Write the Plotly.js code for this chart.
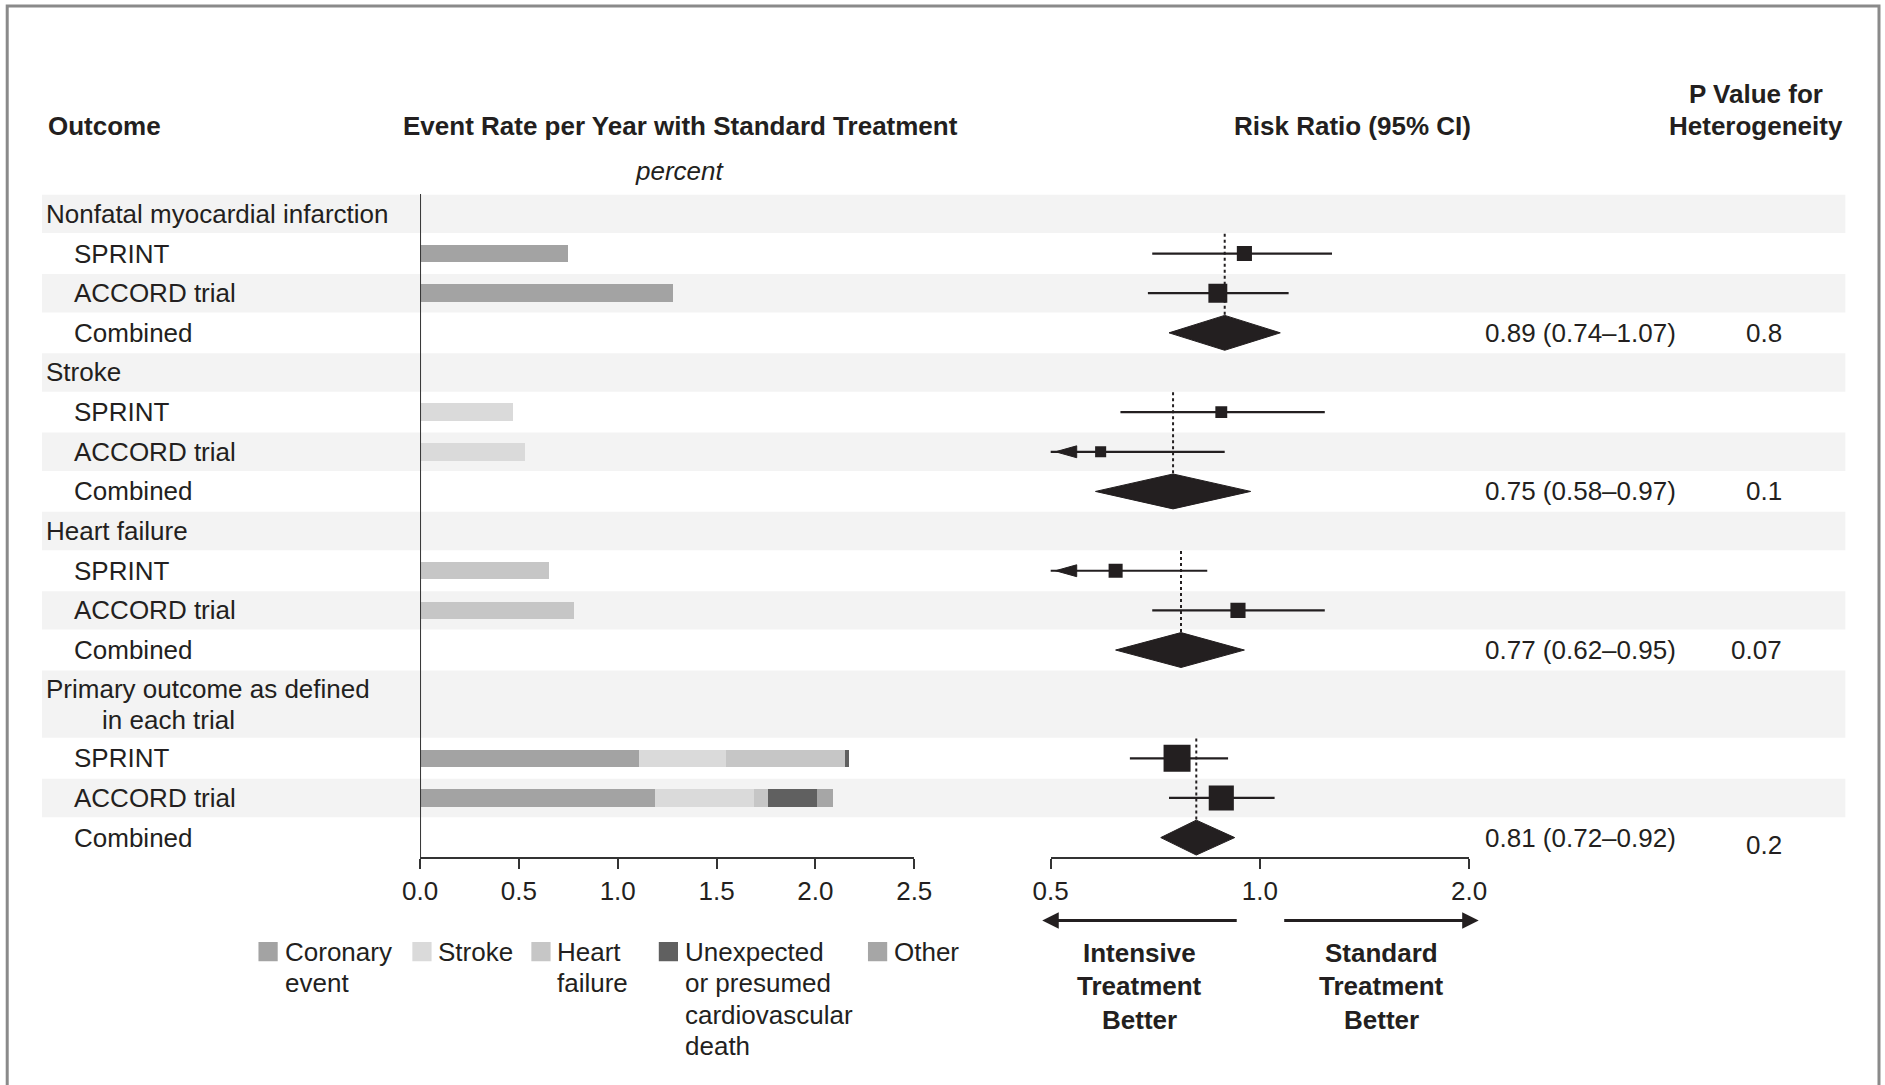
<!DOCTYPE html>
<html><head><meta charset="utf-8">
<script src="https://cdn.plot.ly/plotly-3.0.1.min.js"></script>
<style>html,body{margin:0;padding:0;background:#fff}#chart{width:1885px;height:1085px}</style>
</head><body><div id="chart"></div>
<script>
// ---------------- DATA ----------------
const rowLines = [
  ["Nonfatal myocardial infarction"], ["SPRINT"], ["ACCORD trial"], ["Combined"],
  ["Stroke"], ["SPRINT"], ["ACCORD trial"], ["Combined"],
  ["Heart failure"], ["SPRINT"], ["ACCORD trial"], ["Combined"],
  ["Primary outcome as defined", "in each trial"], ["SPRINT"], ["ACCORD trial"], ["Combined"]
];
const rowKind = ["group","trial","trial","combined","group","trial","trial","combined",
                 "group","trial","trial","combined","group","trial","trial","combined"];

// Event rate per year with standard treatment (percent), stacked by component
const coronaryRate     = [null,0.75,1.28,null, null,null,null,null, null,null,null,null, null,1.11,1.19,null];
const strokeRate       = [null,null,null,null, null,0.47,0.53,null, null,null,null,null, null,0.44,0.50,null];
const heartFailureRate = [null,null,null,null, null,null,null,null, null,0.65,0.78,null, null,0.60,0.07,null];
const cvDeathRate      = [null,null,null,null, null,null,null,null, null,null,null,null, null,0.02,0.25,null];
const otherRate        = [null,null,null,null, null,null,null,null, null,null,null,null, null,null,0.08,null];

const componentNames = [["Coronary","event"],["Stroke"],["Heart","failure"],
                        ["Unexpected","or presumed","cardiovascular","death"],["Other"]];

// Risk ratio (95% CI)
const riskRatio = [null,0.95,0.87,0.89, null,0.88,0.59,0.75, null,0.62,0.93,0.77, null,0.76,0.88,0.81];
const ciLower   = [null,0.70,0.69,0.74, null,0.63,0.39,0.58, null,0.45,0.70,0.62, null,0.65,0.74,0.72];
const ciUpper   = [null,1.27,1.10,1.07, null,1.24,0.89,0.97, null,0.84,1.24,0.95, null,0.90,1.05,0.92];
const studyWeight = [null,0.56,0.70,null, null,0.44,0.41,null, null,0.52,0.56,null, null,1.00,0.93,null];
const ratioText = [null,null,null,"0.89 (0.74–1.07)", null,null,null,"0.75 (0.58–0.97)",
                   null,null,null,"0.77 (0.62–0.95)", null,null,null,"0.81 (0.72–0.92)"];
const pHeterogeneity = [null,null,null,"0.8", null,null,null,"0.1", null,null,null,"0.07", null,null,null,"0.2"];

const rateTicks = [0,0.5,1,1.5,2,2.5];
const rateTickText = ["0.0","0.5","1.0","1.5","2.0","2.5"];
const ratioTicks = [0.5,1,2];
const ratioTickText = ["0.5","1.0","2.0"];

// ---------------- STYLE / LAYOUT HELPERS ----------------
const W = 1885, H = 1085, DW = 1568, DH = 903;
const SX = W / DW;
const px = x => x / DW;
const py = y => 1 - y / DH;
const ROW0 = 178, PITCH = 33;
const FONT = "'Liberation Sans', Arial, sans-serif";
const FS = 26;
const INK = "#231f20";
const componentColors = ["#a3a3a3","#dadada","#c6c6c6","#606060","#a6a6a6"];
const bandColor = "#f3f3f3";

// row centres in row units
const rowH = rowLines.map(l => l.length > 1 ? 1.73 : 1);
const rowY = []; let acc = 0;
rowH.forEach(h => { rowY.push(acc + h/2 - 0.5); acc += h; });
const axisY = 714; // D pixel of the bottom axes
const uTop = (0 - ROW0) / PITCH, uBot = (DH - ROW0) / PITCH;
const axisU = (axisY - ROW0) / PITCH;

const traces = [];
const rates = [coronaryRate, strokeRate, heartFailureRate, cvDeathRate, otherRate];
rates.forEach((arr, k) => {
  traces.push({type:"bar", orientation:"h", x:arr, y:rowY, width:0.44,
    marker:{color:componentColors[k], line:{width:0}}, xaxis:"x", yaxis:"y", hoverinfo:"skip"});
});

// forest: CI lines
const ratioMin = ratioTicks[0];
const ciX = [], ciY = [];
const arrows = [];
rowKind.forEach((k, i) => {
  if (k !== "trial") return;
  ciX.push(ciLower[i], ciUpper[i], null); ciY.push(rowY[i], rowY[i], null);
  if (ciLower[i] < ratioMin) arrows.push(i);
});
traces.push({type:"scatter", mode:"lines", x:ciX, y:ciY, xaxis:"x2", yaxis:"y",
  line:{color:INK, width:2.2}, hoverinfo:"skip", cliponaxis:true});
arrows.forEach(i => {
  traces.push({type:"scatter", mode:"lines", fill:"toself", fillcolor:INK,
    x:[ratioMin*1.016, ratioMin*1.09, ratioMin*1.09, ratioMin*1.016],
    y:[rowY[i], rowY[i]-0.15, rowY[i]+0.15, rowY[i]],
    xaxis:"x2", yaxis:"y", line:{color:INK, width:1}, hoverinfo:"skip"});
});
// squares
const sqX = [], sqY = [], sqS = [];
rowKind.forEach((k, i) => { if (k === "trial") { sqX.push(riskRatio[i]); sqY.push(rowY[i]); sqS.push(27*studyWeight[i]); } });
traces.push({type:"scatter", mode:"markers", x:sqX, y:sqY, xaxis:"x2", yaxis:"y",
  marker:{symbol:"square", size:sqS, color:INK, opacity:1, line:{width:0}}, hoverinfo:"skip"});
// diamonds + dotted lines
const DH2 = 0.44;
rowKind.forEach((k, i) => {
  if (k !== "combined") return;
  const r = rowY[i];
  traces.push({type:"scatter", mode:"lines", fill:"toself", fillcolor:INK,
    x:[ciLower[i], riskRatio[i], ciUpper[i], riskRatio[i], ciLower[i]],
    y:[r, r-DH2, r, r+DH2, r], xaxis:"x2", yaxis:"y", line:{color:INK, width:1}, hoverinfo:"skip"});
  const gi = rowKind.lastIndexOf("group", i);
  traces.push({type:"scatter", mode:"lines", x:[riskRatio[i], riskRatio[i]],
    y:[rowY[gi] + rowH[gi]/2, r - DH2], xaxis:"x2", yaxis:"y",
    line:{color:INK, width:2, dash:"dot"}, hoverinfo:"skip"});
});

// ---------------- SHAPES ----------------
const shapes = [];
rowKind.forEach((k, i) => {
  if (k === "group" || rowLines[i][0] === "ACCORD trial") {
    shapes.push({type:"rect", xref:"paper", yref:"y", x0:px(35), x1:px(1535),
      y0:rowY[i]-rowH[i]/2+0.015, y1:rowY[i]+rowH[i]/2-0.015, fillcolor:bandColor, line:{width:0}, layer:"below"});
  }
});
shapes.push({type:"line", xref:"x", yref:"y", x0:0, x1:0, y0:rowY[0]-0.5, y1:axisU, line:{color:"#333", width:2}});
shapes.push({type:"line", xref:"x2", yref:"y", x0:0, x1:0, y0:rowY[0]-0.5, y1:axisU, line:{color:"#333", width:2}});
shapes.push({type:"rect", xref:"paper", yref:"paper", x0:px(6), x1:px(1563), y0:-0.05, y1:py(5),
  line:{color:"#8a8a8a", width:3}, fillcolor:"rgba(0,0,0,0)"});
// legend swatches
const swatchX = [215, 343, 442, 548, 722];
swatchX.forEach((x, k) => shapes.push({type:"rect", xref:"paper", yref:"paper",
  x0:px(x), x1:px(x+16), y0:py(800), y1:py(784), fillcolor:componentColors[k], line:{width:0}}));

// ---------------- ANNOTATIONS ----------------
const ann = [];
const txt = (text, x, y, xanchor, opts={}) => ann.push(Object.assign({text, x, y, xref:"paper", yref:"paper",
  xanchor, yanchor:"middle", showarrow:false, font:{family:FONT, size:FS, color:INK}}, opts));
rowLines.forEach((lines, i) => {
  const indent = rowKind[i] === "group" ? 37 : 60;
  if (lines.length === 1) {
    txt(lines[0], px(indent), rowY[i], "left", {yref:"y"});
  } else {
    txt(lines[0], px(indent), rowY[i]-0.39, "left", {yref:"y"});
    txt(lines[1], px(83), rowY[i]+0.39, "left", {yref:"y"});
  }
  if (ratioText[i]) txt(ratioText[i], px(1234), rowY[i], "left", {yref:"y"});
  if (pHeterogeneity[i]) txt(pHeterogeneity[i], px(1484), rowY[i] + (i === rowY.length-1 ? 0.18 : 0), "right", {yref:"y"});
});
txt("<b>Outcome</b>", px(38), py(105), "left");
txt("<b>Event Rate per Year with Standard Treatment</b>", px(566), py(105), "center");
txt("<i>percent</i>", px(565), py(142), "center");
txt("<b>Risk Ratio (95% CI)</b>", px(1125), py(105), "center");
txt("<b>P Value for</b>", px(1461), py(78), "center");
txt("<b>Heterogeneity</b>", px(1461), py(105), "center");
componentNames.forEach((lines, k) => lines.forEach((l, j) =>
  txt(l, px(swatchX[k] + 20), py(792 + 26.3*j), "left")));
["Intensive","Treatment","Better"].forEach((l, j) => txt("<b>"+l+"</b>", px(948), py(793 + 28*j), "center"));
["Standard","Treatment","Better"].forEach((l, j) => txt("<b>"+l+"</b>", px(1149), py(793 + 28*j), "center"));
const arrowStyle = {text:"", xref:"paper", yref:"paper", showarrow:true, arrowhead:2, arrowsize:1.1,
  arrowwidth:3, arrowcolor:INK, ay:0, standoff:0};
ann.push(Object.assign({}, arrowStyle, {x:px(867), y:py(766), ax:(1030-867)*SX}));
ann.push(Object.assign({}, arrowStyle, {x:px(1230), y:py(766), ax:-(1230-1067)*SX}));

const axisCommon = {anchor:"free", position:py(axisY), showline:true, linecolor:"#333", linewidth:2,
  ticks:"outside", ticklen:10, tickwidth:2, tickcolor:"#333", showgrid:false, zeroline:false,
  tickfont:{family:FONT, size:FS, color:INK}, fixedrange:true};

const layout = {
  width:W, height:H, margin:{l:0, r:0, t:0, b:0},
  paper_bgcolor:"#fff", plot_bgcolor:"rgba(0,0,0,0)", showlegend:false, barmode:"stack",
  font:{family:FONT, size:FS, color:INK},
  xaxis:Object.assign({}, axisCommon, {domain:[px(349.4), px(760.5)], range:[0,2.5],
    tickmode:"array", tickvals:rateTicks, ticktext:rateTickText}),
  xaxis2:Object.assign({}, axisCommon, {domain:[px(874), px(1222)], type:"log",
    range:[Math.log10(ratioTicks[0]), Math.log10(ratioTicks[ratioTicks.length-1])],
    tickmode:"array", tickvals:ratioTicks, ticktext:ratioTickText}),
  yaxis:{domain:[0,1], range:[uBot, uTop], autorange:false, visible:false, fixedrange:true},
  shapes, annotations:ann
};
Plotly.newPlot("chart", traces, layout, {displayModeBar:false, staticPlot:true});
</script></body></html>
